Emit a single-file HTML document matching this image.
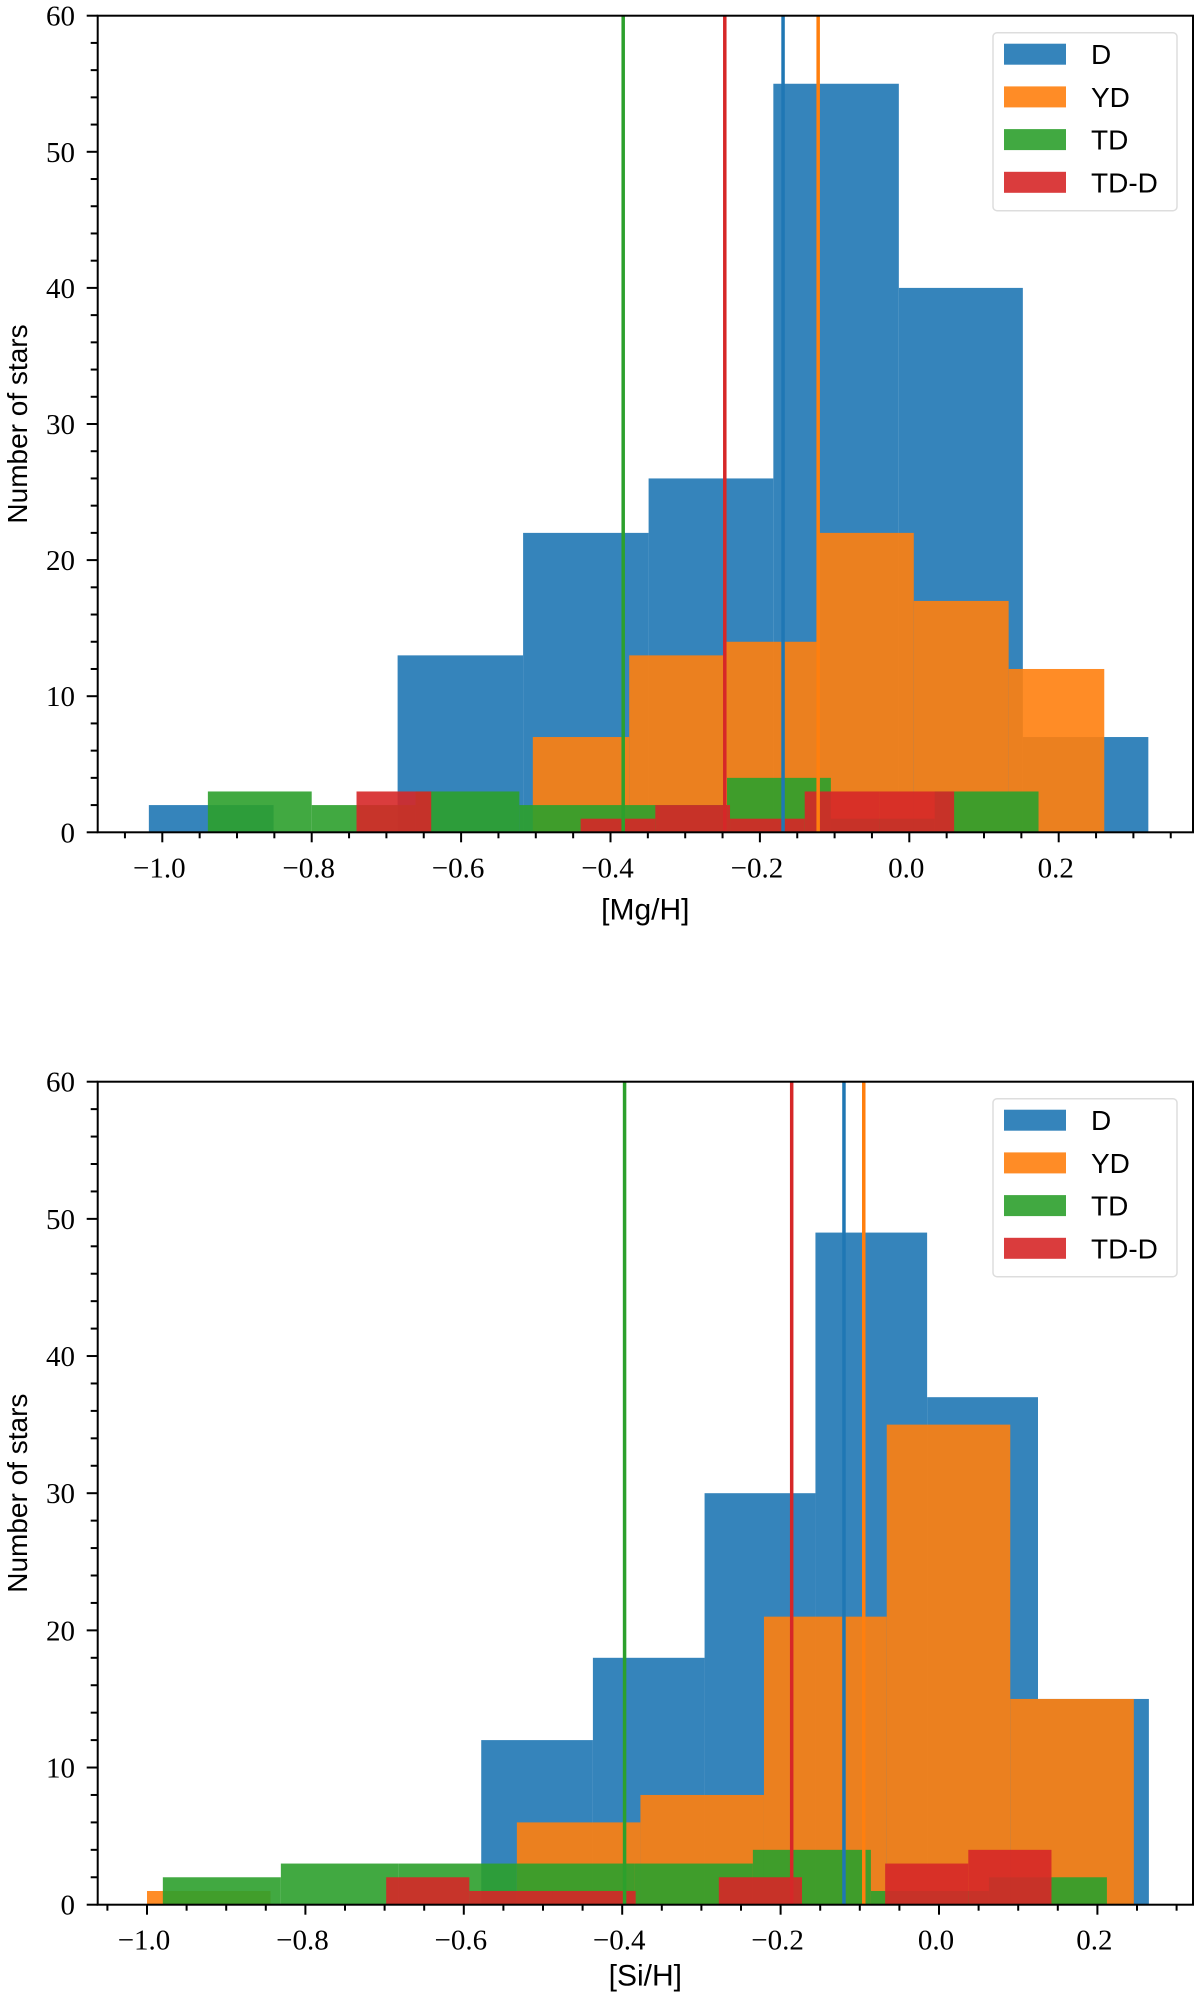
<!DOCTYPE html>
<html><head><meta charset="utf-8"><style>
html,body{margin:0;padding:0;background:#fff;}
svg{display:block;}
.tk{font-family:"Liberation Serif",serif;font-size:29px;fill:#000;}
.lb{font-family:"Liberation Sans",sans-serif;font-size:28px;fill:#000;}
.xl{font-family:"Liberation Sans",sans-serif;font-size:30px;fill:#000;}
.lg{font-family:"Liberation Sans",sans-serif;font-size:28px;fill:#000;}
</style></head><body>
<svg id="fig" width="1200" height="1996" viewBox="0 0 1200 1996" xmlns="http://www.w3.org/2000/svg"></svg>
<script>
// ---- Top panel [Mg/H] data ----
const mgD_edges = [-1.018,-0.851,-0.685,-0.517,-0.349,-0.182,-0.014,0.152,0.320];
const mgD_counts = [2,0,13,22,26,55,40,7];
const mgYD_edges = [-0.504,-0.375,-0.247,-0.121,0.006,0.133,0.261];
const mgYD_counts = [7,13,14,22,17,12];
const mgTD_edges = [-0.939,-0.800,-0.661,-0.522,-0.383,-0.244,-0.105,0.034,0.173];
const mgTD_counts = [3,2,3,2,2,4,1,3];
const mgTDD_edges = [-0.740,-0.640,-0.540,-0.440,-0.340,-0.240,-0.140,-0.040,0.060];
const mgTDD_counts = [3,0,0,1,2,1,3,3];
const mgMeans = [-0.169,-0.122,-0.383,-0.247]; // D, YD, TD, TD-D
// ---- Bottom panel [Si/H] data ----
const siD_edges = [-0.578,-0.437,-0.296,-0.156,-0.015,0.125,0.265];
const siD_counts = [12,18,30,49,37,15];
const siYD_edges = [-1.0,-0.844,-0.688,-0.533,-0.377,-0.221,-0.066,0.090,0.246];
const siYD_counts = [1,0,0,6,8,21,35,15];
const siTD_edges = [-0.980,-0.831,-0.682,-0.533,-0.384,-0.235,-0.086,0.063,0.212];
const siTD_counts = [2,3,3,3,3,4,1,2];
const siTDD_edges = [-0.698,-0.593,-0.488,-0.383,-0.278,-0.173,-0.068,0.037,0.142];
const siTDD_counts = [2,1,1,0,2,0,3,4];
const siMeans = [-0.120,-0.095,-0.397,-0.186];
// ---- shared ----
const seriesNames = ["D","YD","TD","TD-D"];
const yTicks = [0,10,20,30,40,50,60];
const xTicks = [-1.0,-0.8,-0.6,-0.4,-0.2,0.0,0.2];
const xTickLabels = ["\u22121.0","\u22120.8","\u22120.6","\u22120.4","\u22120.2","0.0","0.2"];

const fills = ["#1f77b4","#ff7f0e","#2ca02c","#d62728"];
const NS = "http://www.w3.org/2000/svg";
const svg = document.getElementById('fig');
function mk(tag, attrs, parent){ const e=document.createElementNS(NS,tag); for(const k in attrs) e.setAttribute(k,attrs[k]); (parent||svg).appendChild(e); return e; }

function panel(cfg){
  const g = mk('g',{});
  
  
  const L=97.7,R=1193,T=cfg.top,B=cfg.bottom;
  const xs = v => cfg.x0px + (v)*cfg.pxPerUnit;
  const ys = c => B - (c/60)*(B-T);
  const hists = [[cfg.D_e,cfg.D_c],[cfg.YD_e,cfg.YD_c],[cfg.TD_e,cfg.TD_c],[cfg.TDD_e,cfg.TDD_c]];
  hists.forEach((h,si)=>{
    const sg = mk('g',{},g);
    
    
    const e=h[0], c=h[1];
    for(let i=0;i<c.length;i++){
      if(c[i]<=0) continue;
      const r = mk('rect',{x:xs(e[i]),y:ys(c[i]),width:xs(e[i+1])-xs(e[i]),height:ys(0)-ys(c[i]),fill:fills[si],'fill-opacity':0.9},sg);
      
      
    }
  });
  cfg.means.forEach((m,si)=>{
    const ln = mk('line',{x1:xs(m),x2:xs(m),y1:T,y2:B,stroke:fills[si],'stroke-width':3.5},g);
    
    
  });
  const fr = mk('rect',{x:L,y:T,width:R-L,height:B-T,fill:'none',stroke:'#000','stroke-width':2},g);
  
  
  for(let v=0; v<=60; v+=2){
    const major = v%10===0;
    mk('line',{x1:L,x2:L-(major?11:7),y1:ys(v),y2:ys(v),stroke:'#000','stroke-width':2},g);
  }
  yTicks.forEach(v=>{
    const t = mk('text',{x:75,y:ys(v)+10,'text-anchor':'end',class:'tk'},g);
    t.textContent = String(v);
    
    
  });
  for(let k=-22;k<=8;k++){
    const v=k*0.05, px=xs(v);
    if(px<L||px>R) continue;
    const major = k%4===0;
    mk('line',{x1:px,x2:px,y1:B,y2:B+(major?10:6),stroke:'#000','stroke-width':2},g);
  }
  xTicks.forEach((v,i)=>{
    const t = mk('text',{x:xs(v)-3,y:B+45,'text-anchor':'middle',class:'tk'},g);
    t.textContent = xTickLabels[i];
    
    
  });
  const xl = mk('text',{x:(L+R)/2,y:B+cfg.xlOff,'text-anchor':'middle',class:'xl'},g);
  xl.textContent = cfg.xlabel;
  
  
  const yc=(T+B)/2;
  const yl = mk('text',{x:27,y:yc,'text-anchor':'middle',class:'lb',transform:'rotate(-90 27 '+yc+')'},g);
  yl.textContent = 'Number of stars';
  
  
  const lg = mk('g',{},g);
  
  
  mk('rect',{x:993,y:T+17,width:184,height:178,rx:4,fill:'#fff','fill-opacity':0.8,stroke:'#ddd','stroke-width':1.5},lg);
  seriesNames.forEach((n,i)=>{
    const cy = T+38.5+i*42.7;
    const e = mk('g',{},lg);
    
    
    mk('rect',{x:1004,y:cy-10.5,width:62,height:21,fill:fills[i],'fill-opacity':0.9},e);
    const t = mk('text',{x:1091,y:cy+10,class:'lg'},e);
    t.textContent = n;
  });
}
panel({name:'mg-h-panel',key:'mg',top:15.7,bottom:832.3,x0px:909.3,pxPerUnit:747,xlOff:87,
  D_e:mgD_edges,D_c:mgD_counts,YD_e:mgYD_edges,YD_c:mgYD_counts,TD_e:mgTD_edges,TD_c:mgTD_counts,TDD_e:mgTDD_edges,TDD_c:mgTDD_counts,
  means:mgMeans,xlabel:'[Mg/H]'});
panel({name:'si-h-panel',key:'si',top:1081.7,bottom:1904.7,x0px:939,pxPerUnit:792,xlOff:81,
  D_e:siD_edges,D_c:siD_counts,YD_e:siYD_edges,YD_c:siYD_counts,TD_e:siTD_edges,TD_c:siTD_counts,TDD_e:siTDD_edges,TDD_c:siTDD_counts,
  means:siMeans,xlabel:'[Si/H]'});
</script>
</body></html>
